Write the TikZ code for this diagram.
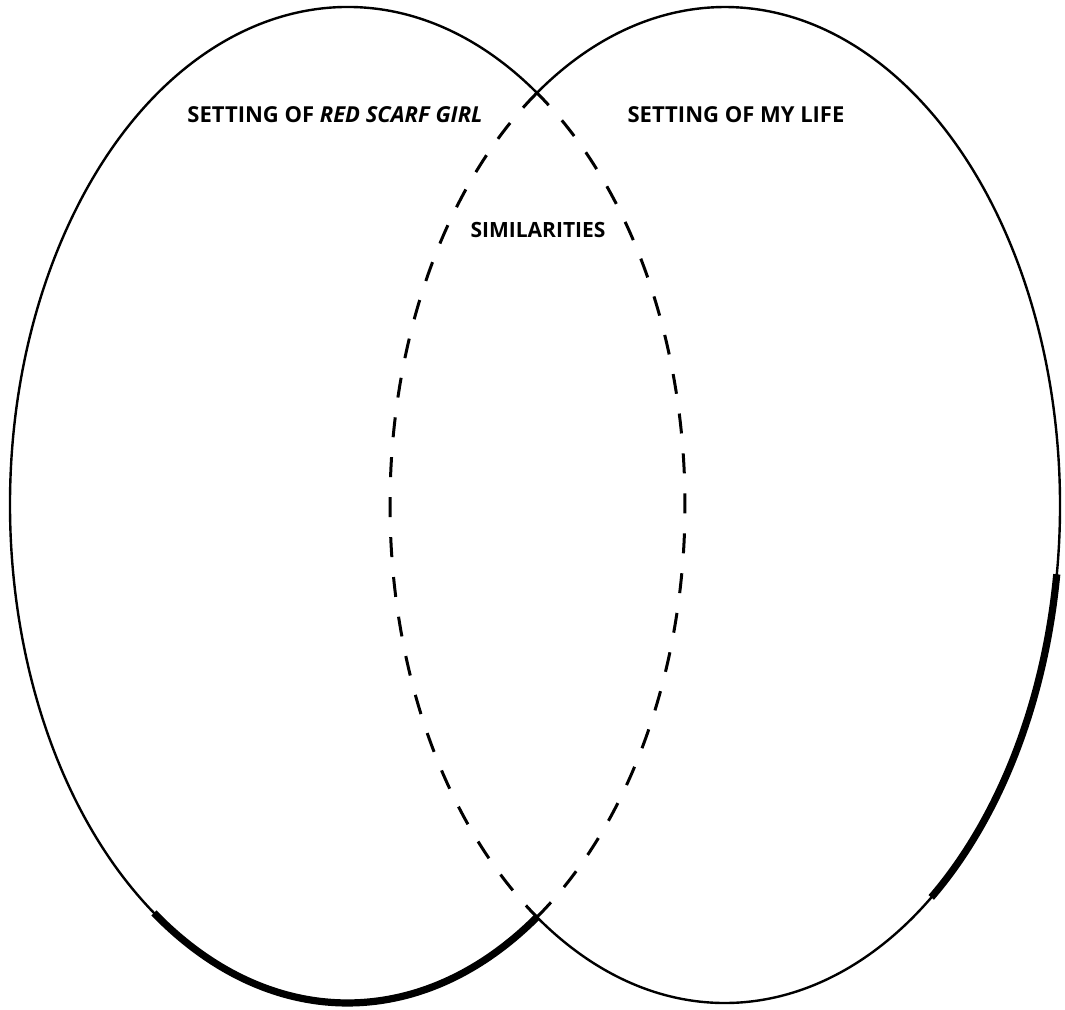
\documentclass[tikz,border=0pt]{standalone}
\usepackage{fontspec}
\newfontfamily\headfont{Open Sans}
\usetikzlibrary{positioning}

\begin{document}
\begin{tikzpicture}[
    x=0.5pt, y=0.5pt,
    outline/.style={line width=1.2pt},
    heavy/.style={line width=3.6pt},
    overlap/.style={line width=1.5pt, dash pattern=on 10pt off 10pt},
    heading/.style={font=\headfont\bfseries\fontsize{11}{13}\selectfont, inner sep=0pt}
]
\useasboundingbox (0,0) rectangle (1065,1010);

\coordinate (book) at (347.5,505);
\coordinate (mine) at (725,505);

% left ellipse: solid outside, dashed inside the right one
\draw[outline] (book) ++(55.8:337.5 and 498) arc[start angle=55.8, end angle=304.2, x radius=337.5, y radius=498];
\draw[overlap] (book) ++(-55.8:337.5 and 498) arc[start angle=-55.8, end angle=55.8, x radius=337.5, y radius=498];
\draw[heavy] (book) ++(235:337.5 and 498) arc[start angle=235, end angle=304.2, x radius=337.5, y radius=498];

% right ellipse
\draw[outline] (mine) ++(-124.2:335 and 498) arc[start angle=-124.2, end angle=124.2, x radius=335, y radius=498];
\draw[overlap] (mine) ++(124.2:335 and 498) arc[start angle=124.2, end angle=235.8, x radius=335, y radius=498];
\draw[heavy] (mine) ++(-52:335 and 498) arc[start angle=-52, end angle=-8, x radius=335, y radius=498];

\node[heading] (booktitle) at (335,895) {SETTING OF \textit{RED SCARF GIRL}};
\node[heading] (minetitle) at (736,895) {SETTING OF MY LIFE};
\node[heading, font=\headfont\bfseries\fontsize{10.5}{12}\selectfont] (both) at (538,780) {SIMILARITIES};
\end{tikzpicture}
\end{document}
